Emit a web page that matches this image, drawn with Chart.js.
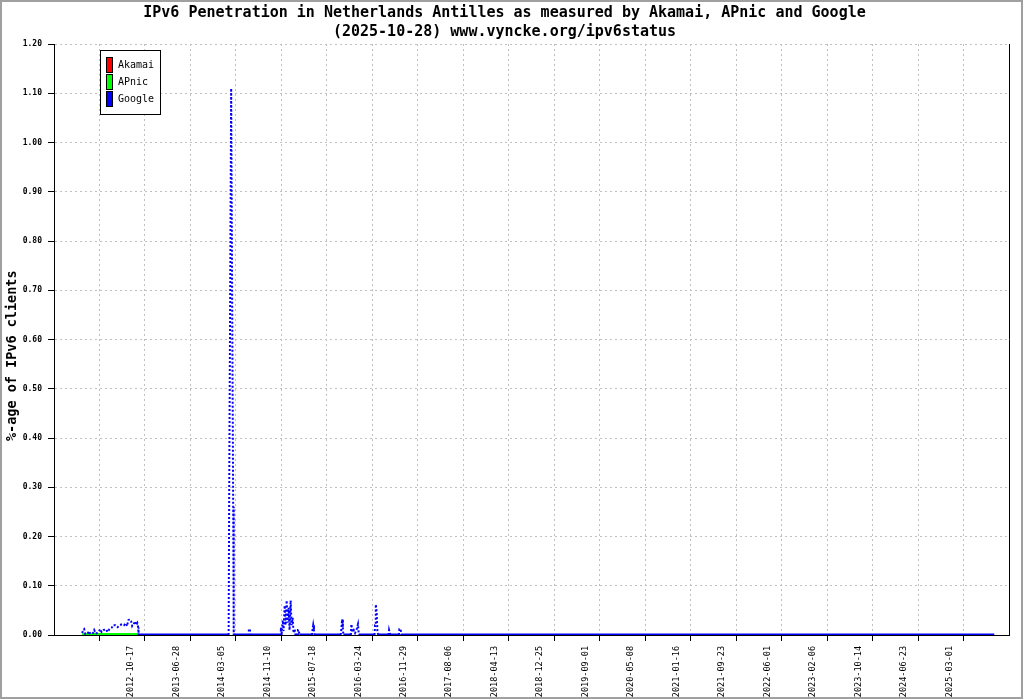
<!DOCTYPE html>
<html><head><meta charset="utf-8">
<script src="https://cdn.jsdelivr.net/npm/chart.js@4.4.1/dist/chart.umd.min.js"></script>
<style>html,body{margin:0;padding:0;background:#fff;overflow:hidden}canvas{display:block}</style>
</head><body>
<canvas id="c" width="1024" height="700"></canvas>
<script>
const titleLines = ['IPv6 Penetration in Netherlands Antilles as measured by Akamai, APnic and Google', '(2025-10-28) www.vyncke.org/ipv6status'];
const yAxisTitle = '%-age of IPv6 clients    ';
const seriesNames = ['Akamai', 'APnic', 'Google'];
const seriesColors = ['#ff0000', '#00ff00', '#0000ff'];

// x axis: sample index; ticks every 250 samples
const tickIndex = [250, 500, 750, 1000, 1250, 1500, 1750, 2000, 2250, 2500, 2750, 3000, 3250, 3500, 3750, 4000, 4250, 4500, 4750, 5000];
const tickLabels = ['', '2012-10-17', '2013-06-28', '2014-03-05', '2014-11-10', '2015-07-18', '2016-03-24', '2016-11-29', '2017-08-06', '2018-04-13', '2018-12-25', '2019-09-01', '2020-05-08', '2021-01-16', '2021-09-23', '2022-06-01', '2023-02-06', '2023-10-14', '2024-06-23', '2025-03-01'];
const xMax = 5250;
const yMax = 1.2;
const yStep = 0.1;

const akamaiIdx = [];
const akamaiVal = [];

const apnicIdx = [155, 463];
const apnicVal = [0.001, 0.001];

const googleIdx = [155, 160, 166, 172, 185, 193, 200, 215, 221, 230, 245, 254, 262, 272, 285, 295, 305, 318, 325, 338, 350, 362, 375, 385, 395, 402, 408, 416, 424, 430, 438, 446, 452, 458, 463, 465,
  960, 963, 974, 985, 988,
  1068, 1071, 1077, 1080,
  1244, 1247, 1252, 1258, 1262, 1268, 1273, 1279, 1284, 1290, 1295, 1301, 1306, 1312, 1317, 1323, 1327, 1338, 1341, 1346, 1349,
  1418, 1421, 1425, 1429, 1432,
  1576, 1579, 1584, 1588, 1591,
  1632, 1635, 1640, 1648, 1655, 1664, 1671, 1676,
  1762, 1765, 1769, 1774, 1778, 1782,
  1839, 1842, 1846, 1849,
  1896, 1899, 1906, 1909,
  5169];
const googleVal = [0.004, 0.01, 0.012, 0.002, 0.003, 0.008, 0.002, 0.004, 0.01, 0.003, 0.006, 0.012, 0.006, 0.01, 0.012, 0.006, 0.012, 0.015, 0.02, 0.02, 0.016, 0.02, 0.022, 0.02, 0.024, 0.018, 0.03, 0.032, 0.028, 0.018, 0.022, 0.028, 0.02, 0.024, 0.015, 0,
  0, 0.28, 1.11, 0.26, 0,
  0, 0.012, 0.012, 0,
  0, 0.015, 0.004, 0.03, 0.008, 0.06, 0.02, 0.07, 0.025, 0.055, 0.01, 0.07, 0.02, 0.035, 0.004, 0.012, 0, 0, 0.01, 0.01, 0,
  0, 0.01, 0.02, 0.01, 0,
  0, 0.01, 0.032, 0.012, 0,
  0, 0.022, 0.006, 0.01, 0.004, 0.012, 0.022, 0,
  0, 0.02, 0.062, 0.045, 0.006, 0,
  0, 0.01, 0.01, 0,
  0, 0.012, 0.012, 0,
  0];

const pairs = (xs, ys) => xs.map((x, i) => ({x: x, y: ys[i]}));
const MONO = "'DejaVu Sans Mono', 'Liberation Mono', monospace";

const isFlat = ctx => ctx.p0.parsed.y === 0 && ctx.p1.parsed.y === 0;

const chromePlugin = {
  id: 'chrome',
  beforeDraw(chart) {
    const c = chart.ctx;
    c.save();
    c.fillStyle = '#ffffff';
    c.fillRect(0, 0, chart.width, chart.height);
    c.restore();
  },
  afterDraw(chart) {
    const c = chart.ctx;
    const a = chart.chartArea;
    c.save();
    // right border of plot
    c.strokeStyle = '#000';
    c.lineWidth = 1;
    c.beginPath();
    c.moveTo(Math.round(a.right) + 0.5, a.top);
    c.lineTo(Math.round(a.right) + 0.5, a.bottom);
    c.stroke();
    // legend box
    const lx = a.left + 46, ly = a.top + 6, lw = 60, lh = 64;
    c.fillStyle = '#fff';
    c.fillRect(lx, ly, lw, lh);
    c.strokeStyle = '#000';
    c.strokeRect(lx + 0.5, ly + 0.5, lw, lh);
    c.font = "10px " + MONO;
    c.textBaseline = 'middle';
    chart.data.datasets.forEach((ds, i) => {
      const sy = ly + 7 + i * 17;
      c.fillStyle = ds.borderColor;
      c.fillRect(lx + 6, sy, 6, 15);
      c.strokeStyle = '#000';
      c.strokeRect(lx + 6.5, sy + 0.5, 6, 15);
      c.fillStyle = '#000';
      c.fillText(ds.label, lx + 18, sy + 8);
    });
    // outer frame
    c.strokeStyle = '#a0a0a0';
    c.lineWidth = 2;
    c.strokeRect(1, 1, 1021, 697);
    c.restore();
  }
};

new Chart(document.getElementById('c'), {
  type: 'line',
  data: {
    datasets: [
      {label: seriesNames[0], data: pairs(akamaiIdx, akamaiVal), borderColor: seriesColors[0], backgroundColor: seriesColors[0], borderWidth: 3, order: 2},
      {label: seriesNames[1], data: pairs(apnicIdx, apnicVal), borderColor: seriesColors[1], backgroundColor: seriesColors[1], borderWidth: 3, order: 1},
      {label: seriesNames[2], data: pairs(googleIdx, googleVal), borderColor: seriesColors[2], backgroundColor: seriesColors[2], borderWidth: 2, order: 0,
        segment: {
          borderDash: ctx => isFlat(ctx) ? [] : [2, 2],
          borderWidth: ctx => isFlat(ctx) ? 3 : 2
        }}
    ]
  },
  options: {
    responsive: false,
    animation: false,
    devicePixelRatio: 1,
    elements: {point: {radius: 0, hoverRadius: 0}, line: {tension: 0, fill: false}},
    layout: {padding: {left: 0, right: 15, top: 0, bottom: 0}},
    plugins: {
      legend: {display: false},
      tooltip: {enabled: false},
      title: {
        display: true,
        text: titleLines,
        color: '#000',
        font: {family: MONO, size: 15, weight: 'bold', lineHeight: 19 / 15},
        padding: {top: 4, bottom: 2}
      }
    },
    scales: {
      x: {
        type: 'linear',
        min: 0,
        max: xMax,
        afterBuildTicks: s => { s.ticks = tickIndex.map(v => ({value: v})); },
        afterFit: s => { s.height = 65; },
        ticks: {
          autoSkip: false,
          minRotation: 90,
          maxRotation: 90,
          padding: 5,
          labelOffset: -14,
          color: '#000',
          font: {family: MONO, size: 8.5},
          callback: (v, i) => tickLabels[i]
        },
        grid: {color: '#c0c0c0', tickColor: '#000', tickLength: 6, tickBorderDash: [], lineWidth: 1},
        border: {display: true, color: '#000', dash: [2, 3], width: 1}
      },
      y: {
        min: 0,
        max: yMax,
        afterFit: s => { s.width = 54; },
        ticks: {
          stepSize: yStep,
          padding: 6,
          color: '#000',
          font: {family: MONO, size: 8, weight: 'bold'},
          callback: v => Number(v).toFixed(2)
        },
        grid: {color: '#c0c0c0', tickColor: '#000', tickLength: 6, tickBorderDash: [], lineWidth: 1},
        border: {display: true, color: '#000', dash: [2, 3], width: 1},
        title: {
          display: true,
          text: yAxisTitle,
          color: '#000',
          font: {family: MONO, size: 13.5, weight: 'bold'},
          padding: {top: 4, bottom: 0}
        }
      }
    }
  },
  plugins: [chromePlugin]
});
</script>
</body></html>
